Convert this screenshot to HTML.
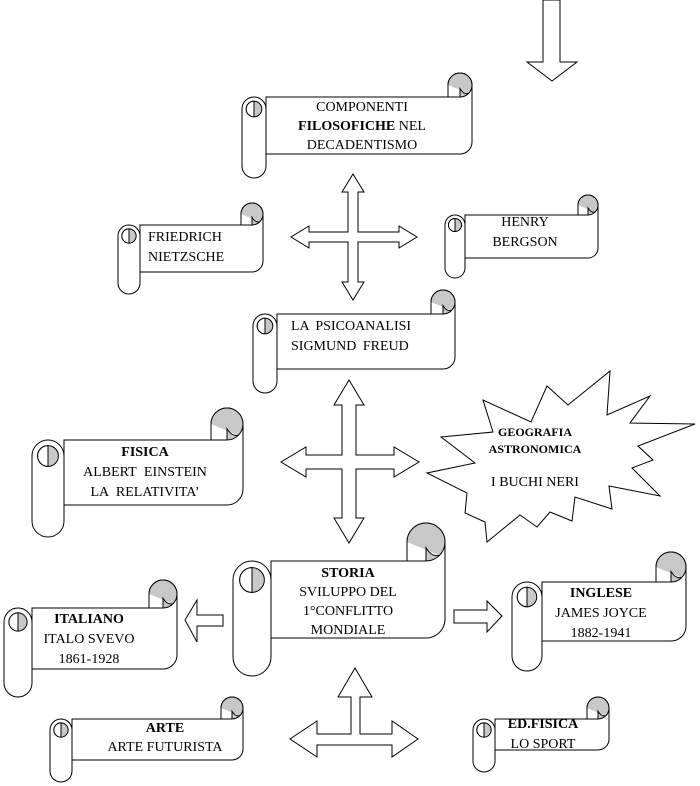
<!DOCTYPE html>
<html><head><meta charset="utf-8"><style>
html,body{margin:0;padding:0;background:#fff;}
body{width:700px;height:786px;position:relative;overflow:hidden;font-family:"Liberation Serif",serif;font-size:14px;color:#000;}
svg{position:absolute;left:0;top:0;}
.t{position:absolute;white-space:nowrap;line-height:19px;transform:translateX(-50%);text-align:center;}
.l{position:absolute;white-space:nowrap;line-height:20px;}
b{font-weight:bold;}
</style></head><body>
<svg id="s" width="700" height="786" viewBox="0 0 700 786" fill="#fff" stroke="#000" stroke-width="1">
<polygon points="543,0 560,0 560,62 577,62 552,81 527,62 543,62"/>
<polygon points="441,437 493,432 483,400 531,422 547,386 568,405 610,371 607,415 650,396 630,423 695,424 638,446 653,460 632,468 660,496 609,486 612,509 575,497 572,521 550,512 537,527 520,515 487,542 485,522 465,513 467,493 427,473 475,463" fill="none"/>
<polygon points="185,620 197,600 197,615 223,615 223,626 197,626 197,642"/>
<polygon points="502,616 487,601 487,610 454,610 454,623 487,623 487,632"/>
<polygon points="355,668 372,697 360,697 360,734 392,734 392,721 418,739 392,757 392,745 317,745 317,757 290,739 317,721 317,734 351,734 351,697 338,697"/>
</svg>
<script>
var s=document.getElementById('s'),NS='http://www.w3.org/2000/svg';
function el(n,a){var e=document.createElementNS(NS,n);for(var k in a)e.setAttribute(k,a[k]);s.appendChild(e);return e;}
function cross(cx,cy,t,b,l,r,sw,hw,hl){var a=sw/2,h=hw/2;
var p=[[cx,t],[cx+h,t+hl],[cx+a,t+hl],[cx+a,cy-a],[r-hl,cy-a],[r-hl,cy-h],[r,cy],[r-hl,cy+h],[r-hl,cy+a],[cx+a,cy+a],[cx+a,b-hl],[cx+h,b-hl],[cx,b],[cx-h,b-hl],[cx-a,b-hl],[cx-a,cy+a],[l+hl,cy+a],[l+hl,cy+h],[l,cy],[l+hl,cy-h],[l+hl,cy-a],[cx-a,cy-a],[cx-a,t+hl],[cx-h,t+hl]];
el('polygon',{points:p.map(function(q){return q.join(',')}).join(' ')});}
cross(353,237,174,300,291,417,10,22,18);
cross(349,462,380,543,281,419,14,30,25);
function scroll(x0,y0,x1,y1,r){
 var by0=y0+2*r,by1=y1-2*r;
 el('path',{d:'M'+(x1-2*r)+','+(y0+r)+' A'+r+','+r+' 0 0 1 '+x1+','+(y0+r)+' L'+x1+','+(by1-r)+' A'+r+','+r+' 0 0 1 '+(x1-r)+','+by1+' L'+(x0+2*r)+','+by1+' L'+(x0+2*r)+','+by0+' L'+(x1-2*r)+','+by0+' Z'});
 el('circle',{cx:x1-r,cy:y0+r,r:r,fill:'#c8c8c8'});
 el('path',{d:'M'+(x1-2*r)+','+(y0+r)+' L'+(x1-2*r)+','+by0+' L'+(x1-r)+','+by0+' L'+(x1-r)+','+(y0+r*1.3)+' Q'+(x1-r*0.7)+','+(y0+r*1.8)+' '+(x1-r*0.3)+','+(y0+r*1.7),fill:'#fff'});
 el('path',{d:'M'+x0+','+(by0+r)+' A'+r+','+r+' 0 0 1 '+(x0+2*r)+','+(by0+r)+' L'+(x0+2*r)+','+(y1-r)+' A'+r+','+r+' 0 0 1 '+x0+','+(y1-r)+' Z'});
 el('circle',{cx:x0+r,cy:by0+r,r:r*0.65,fill:'#c8c8c8'});
 el('path',{d:'M'+(x0+r)+','+(by0+r*0.35)+' A'+(r*0.65)+','+(r*0.65)+' 0 0 0 '+(x0+r)+','+(by0+r*1.65)+' Z',fill:'#fff'});
}
scroll(242,73,472,178,12);
scroll(118,203,263,294,11);
scroll(445,195,598,278,10);
scroll(253,290,455,393,12);
scroll(32,408,243,537,16);
scroll(233,523,445,676,19);
scroll(4,580,177,697,14);
scroll(512,552,686,671,15);
scroll(50,697,243,782,11);
scroll(473,697,609,772,11);
</script>
<div class="t" style="left:362px;top:98px">COMPONENTI<br><b>FILOSOFICHE</b> NEL<br>DECADENTISMO</div>
<div class="l" style="left:148px;top:228px">FRIEDRICH<br>NIETZSCHE</div>
<div class="t" style="left:525px;top:213px;line-height:20px">HENRY<br>BERGSON</div>
<div class="l" style="left:291px;top:317px;word-spacing:3px">LA PSICOANALISI<br>SIGMUND FREUD</div>
<div class="t" style="left:145px;top:443px;line-height:20px"><b>FISICA</b><br><span style="word-spacing:4px">ALBERT EINSTEIN</span><br><span style="word-spacing:4px">LA RELATIVITA’</span></div>
<div class="t" style="left:535px;top:424px;font-size:12px;line-height:17px;font-weight:bold">GEOGRAFIA<br>ASTRONOMICA</div>
<div class="t" style="left:535px;top:473px">I BUCHI NERI</div>
<div class="t" style="left:348px;top:564px"><b>STORIA</b><br>SVILUPPO DEL<br>1°CONFLITTO<br>MONDIALE</div>
<div class="t" style="left:89px;top:610px;line-height:20px"><b>ITALIANO</b><br>ITALO SVEVO<br>1861-1928</div>
<div class="t" style="left:601px;top:584px;line-height:20px"><b>INGLESE</b><br>JAMES JOYCE<br>1882-1941</div>
<div class="t" style="left:165px;top:719px"><b>ARTE</b><br>ARTE FUTURISTA</div>
<div class="t" style="left:543px;top:715px;line-height:20px"><b>ED.FISICA</b><br>LO SPORT</div>
</body></html>
